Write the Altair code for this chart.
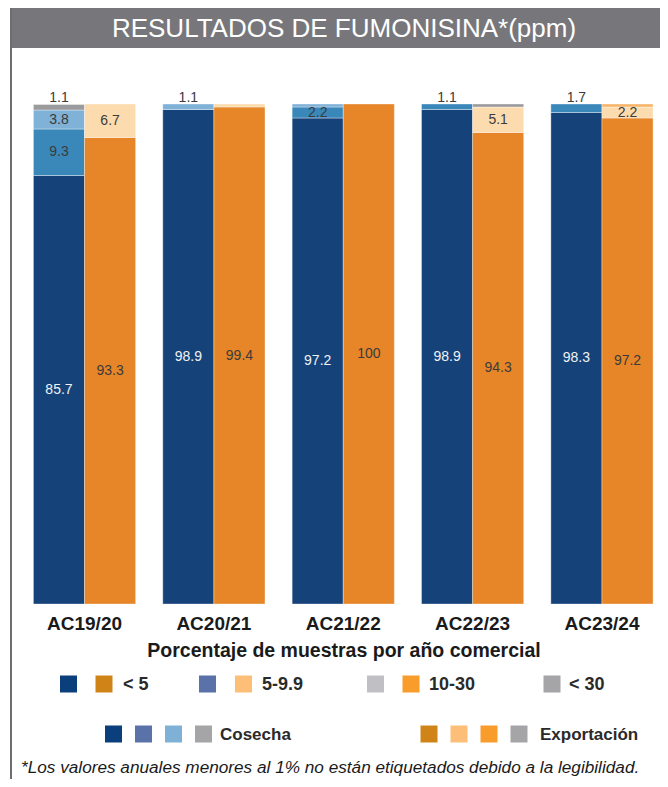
import altair as alt
import pandas as pd

# ---------------- data ----------------
years = ["AC19/20", "AC20/21", "AC21/22", "AC22/23", "AC23/24"]
series = ["Cosecha", "Exportación"]
bands = ["lt5", "b5", "b10", "gt30"]

cos_lt5 = [85.7, 98.9, 97.2, 98.9, 98.3]
cos_5_9 = [9.3, 0.0, 2.2, 1.1, 1.7]
cos_10_30 = [3.8, 1.1, 0.6, 0.0, 0.0]
cos_gt30 = [1.1, 0.0, 0.0, 0.0, 0.0]

exp_lt5 = [93.3, 99.4, 100.0, 94.3, 97.2]
exp_5_9 = [6.7, 0.6, 0.0, 5.1, 2.2]
exp_10_30 = [0.0, 0.0, 0.0, 0.0, 0.6]
exp_gt30 = [0.0, 0.0, 0.0, 0.6, 0.0]

legend_band_labels = ["< 5", "5-9.9", "10-30", "< 30"]
legend_series_labels = ["Cosecha", "Exportación"]

title_text = "RESULTADOS DE FUMONISINA*(ppm)"
axis_title = "Porcentaje de muestras por año comercial"
footnote = "*Los valores anuales menores al 1% no están etiquetados debido a la legibilidad."

rows = []
for s, arrays in [("Cosecha", [cos_lt5, cos_5_9, cos_10_30, cos_gt30]),
                  ("Exportación", [exp_lt5, exp_5_9, exp_10_30, exp_gt30])]:
    for rank, (b, arr) in enumerate(zip(bands, arrays)):
        for y, v in zip(years, arr):
            rows.append({"year": y, "series": s, "band": b, "rank": rank,
                         "key": s + "|" + b, "value": v})
df = pd.DataFrame(rows)

# ---------------- styles ----------------
FONT = "Liberation Sans"
key_domain = [s + "|" + b for s in series for b in bands]
key_range = ["#16427a", "#3a88ba", "#80b1d7", "#9b9b9e",
             "#e68628", "#fcdcae", "#f6b56a", "#9b9b9e"]

W, H = 652, 771
x_scale = alt.Scale(domain=years, range=[12.5, 658.0], paddingInner=0.21, paddingOuter=0.1)
xo_scale = alt.Scale(domain=series, paddingInner=0.0, paddingOuter=0.0)
y_scale = alt.Scale(domain=[0, 100], range=[596, 96], nice=False, zero=True)

dummy = pd.DataFrame({"d": [0]})
layers = []

# title band and left rule
layers.append(alt.Chart(dummy).mark_rect(color="#77777b").encode(
    x=alt.value(2), x2=alt.value(W), y=alt.value(0), y2=alt.value(40)))
layers.append(alt.Chart(dummy).mark_rule(color="#6e6e6e", strokeWidth=2).encode(
    x=alt.value(3), y=alt.value(0), y2=alt.value(H)))
layers.append(alt.Chart(dummy).mark_text(
    text=title_text, font=FONT, fontSize=26, color="white",
    align="center", baseline="middle").encode(x=alt.value(336), y=alt.value(21)))

stacked = alt.Chart(df).transform_filter("datum.value > 0").transform_stack(
    stack="value", groupby=["year", "series"], as_=["y0", "y1"],
    sort=[alt.SortField("rank", order="ascending")]
).transform_calculate(mid="(datum.y0 + datum.y1) / 2", top="100")

bars = stacked.mark_bar(stroke="white", strokeWidth=0.5, strokeOpacity=0.7).encode(
    x=alt.X("year:N", scale=x_scale, axis=None),
    xOffset=alt.XOffset("series:N", scale=xo_scale),
    y=alt.Y("y0:Q", scale=y_scale, axis=None),
    y2="y1:Q",
    color=alt.Color("key:N", scale=alt.Scale(domain=key_domain, range=key_range), legend=None),
)
layers.append(bars)

inside = stacked.transform_filter("datum.value >= 2").mark_text(
    font=FONT, fontSize=14, align="center", baseline="middle"
).encode(
    x=alt.X("year:N", scale=x_scale, axis=None),
    xOffset=alt.XOffset("series:N", scale=xo_scale),
    y=alt.Y("mid:Q", scale=y_scale, axis=None),
    text=alt.Text("value:Q", format="~g"),
    color=alt.condition("datum.key == 'Cosecha|lt5'", alt.value("#f2f2f2"), alt.value("#3b3b3b")),
)
layers.append(inside)

above = stacked.transform_filter("datum.value >= 1 && datum.value < 2").mark_text(
    font=FONT, fontSize=14, align="center", baseline="alphabetic",
    dy=-2, color="#3b3b3b"
).encode(
    x=alt.X("year:N", scale=x_scale, axis=None),
    xOffset=alt.XOffset("series:N", scale=xo_scale),
    y=alt.Y("top:Q", scale=y_scale, axis=None),
    text=alt.Text("value:Q", format="~g"),
)
layers.append(above)

# category labels via the x scale
layers.append(alt.Chart(pd.DataFrame({"year": years})).mark_text(
    font=FONT, fontSize=19, fontWeight="bold", color="#1a1a1a",
    align="center", baseline="middle").encode(
    x=alt.X("year:N", scale=x_scale, axis=None), y=alt.value(616), text="year:N"))

layers.append(alt.Chart(dummy).mark_text(
    text=axis_title, font=FONT, fontSize=19.5, fontWeight="bold",
    color="#1a1a1a", align="center", baseline="middle").encode(
    x=alt.value(336), y=alt.value(643)))

# legend (layout)
sq = 289
row1 = [(60.5, "#0b3f7b"), (96, "#d08418"), (199.5, "#5b72a8"), (235.5, "#fdbf78"),
        (367.5, "#c0c0c4"), (403, "#f89d2b"), (544, "#a5a5a8")]
for x, c in row1:
    layers.append(alt.Chart(dummy).mark_square(size=sq, color=c, opacity=1).encode(
        x=alt.value(x), y=alt.value(676)))
for x, t in zip([115, 254, 421, 561], legend_band_labels):
    layers.append(alt.Chart(dummy).mark_text(
        text=t, font=FONT, fontSize=18, fontWeight="bold", color="#2a2a2a",
        align="left", baseline="middle").encode(x=alt.value(x), y=alt.value(677)))

row2 = [(105.5, "#0b3f7b"), (135.5, "#5b72a8"), (165.5, "#7fb0d6"), (195.5, "#a5a5a8"),
        (421, "#d08418"), (451, "#fdbf78"), (481, "#f89d2b"), (511, "#a5a5a8")]
for x, c in row2:
    layers.append(alt.Chart(dummy).mark_square(size=sq, color=c, opacity=1).encode(
        x=alt.value(x), y=alt.value(726)))
for x, t in zip([212, 532], legend_series_labels):
    layers.append(alt.Chart(dummy).mark_text(
        text=t, font=FONT, fontSize=17, fontWeight="bold", color="#2a2a2a",
        align="left", baseline="middle").encode(x=alt.value(x), y=alt.value(727)))

layers.append(alt.Chart(dummy).mark_text(
    text=footnote, font=FONT, fontSize=17.2, fontStyle="italic",
    color="#1a1a1a", align="left", baseline="alphabetic").encode(
    x=alt.value(13), y=alt.value(765)))

chart = alt.layer(*layers).properties(
    width=W, height=H, autosize=alt.AutoSizeParams(type="none"), padding=0
).configure_view(stroke=None)

chart.save("out.html", embed_options={"renderer": "svg", "actions": False})
